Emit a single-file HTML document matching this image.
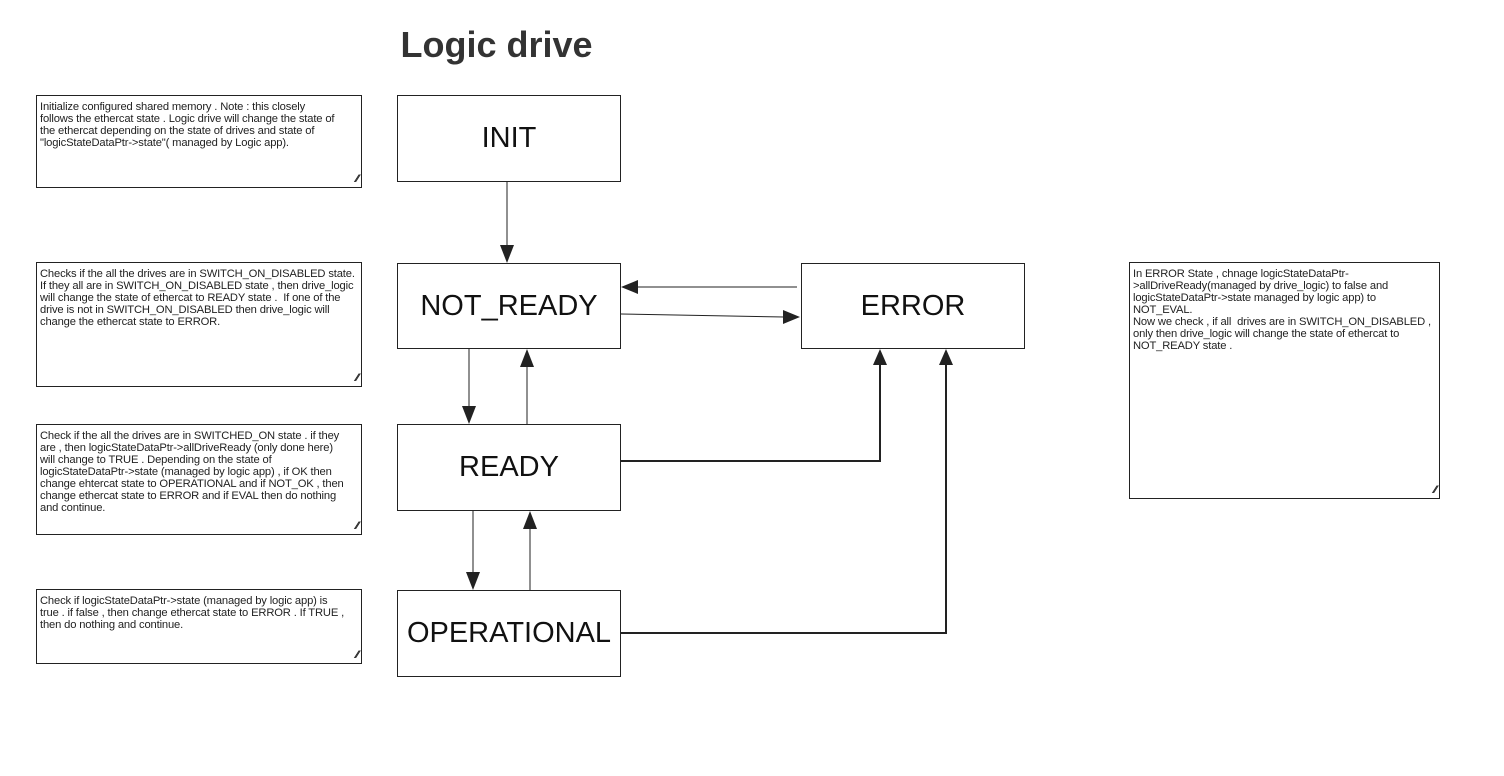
<!DOCTYPE html>
<html><head><meta charset="utf-8"><style>
body{margin:0;width:1504px;height:776px;background:#fff;position:relative;overflow:hidden;font-family:"Liberation Sans",sans-serif;}
.note{position:absolute;border:1px solid #222;box-sizing:border-box;padding:5px 3px;font-size:11.2px;line-height:12px;color:#222;white-space:nowrap;letter-spacing:-0.15px}
.note:after{content:"⁄⁄";position:absolute;right:4px;bottom:2px;font-size:11px;font-weight:bold;letter-spacing:-3px}
.st{position:absolute;border:1px solid #222;box-sizing:border-box;display:flex;align-items:center;justify-content:center;font-size:29px;color:#111}
h1{position:absolute;left:0;width:993px;top:24px;margin:0;text-align:center;font-size:36px;font-weight:bold;color:#333}
</style></head><body>
<h1>Logic drive</h1>
<div class="note" style="left:36px;top:95px;width:326px;height:93px">Initialize configured shared memory . Note : this closely<br>follows the ethercat state . Logic drive will change the state of<br>the ethercat depending on the state of drives and state of<br>"logicStateDataPtr-&gt;state"( managed by Logic app).</div>
<div class="note" style="left:36px;top:262px;width:326px;height:125px">Checks if the all the drives are in SWITCH_ON_DISABLED state.<br>If they all are in SWITCH_ON_DISABLED state , then drive_logic<br>will change the state of ethercat to READY state .&nbsp; If one of the<br>drive is not in SWITCH_ON_DISABLED then drive_logic will<br>change the ethercat state to ERROR.</div>
<div class="note" style="left:36px;top:424px;width:326px;height:111px">Check if the all the drives are in SWITCHED_ON state . if they<br>are , then logicStateDataPtr-&gt;allDriveReady (only done here)<br>will change to TRUE . Depending on the state of<br>logicStateDataPtr-&gt;state (managed by logic app) , if OK then<br>change ehtercat state to OPERATIONAL and if NOT_OK , then<br>change ethercat state to ERROR and if EVAL then do nothing<br>and continue.</div>
<div class="note" style="left:36px;top:589px;width:326px;height:75px">Check if logicStateDataPtr-&gt;state (managed by logic app) is<br>true . if false , then change ethercat state to ERROR . If TRUE ,<br>then do nothing and continue.</div>
<div class="note" style="left:1129px;top:262px;width:311px;height:237px">In ERROR State , chnage logicStateDataPtr-<br>&gt;allDriveReady(managed by drive_logic) to false and<br>logicStateDataPtr-&gt;state managed by logic app) to<br>NOT_EVAL.<br>Now we check , if all&nbsp; drives are in SWITCH_ON_DISABLED ,<br>only then drive_logic will change the state of ethercat to<br>NOT_READY state .</div>
<div class="st" style="left:397px;top:95px;width:224px;height:87px">INIT</div>
<div class="st" style="left:397px;top:263px;width:224px;height:86px">NOT_READY</div>
<div class="st" style="left:397px;top:424px;width:224px;height:87px">READY</div>
<div class="st" style="left:397px;top:590px;width:224px;height:87px">OPERATIONAL</div>
<div class="st" style="left:801px;top:263px;width:224px;height:86px">ERROR</div>
<svg width="1504" height="776" style="position:absolute;left:0;top:0" fill="#222">
<g stroke="#222" stroke-width="1" fill="none">
<line x1="507" y1="182" x2="507" y2="246"/>
<line x1="469" y1="349" x2="469" y2="407"/>
<line x1="527" y1="424" x2="527" y2="366"/>
<line x1="473" y1="511" x2="473" y2="573"/>
<line x1="530" y1="590" x2="530" y2="528"/>
<line x1="797" y1="287" x2="637" y2="287"/>
<line x1="621" y1="314" x2="784" y2="317"/>
<polyline stroke-width="2" points="621,461 880,461 880,364"/>
<polyline stroke-width="2" points="621,633 946,633 946,364"/>
</g>
<polygon points="500,245 514,245 507,263"/>
<polygon points="462,406 476,406 469,424"/>
<polygon points="520,367 534,367 527,349"/>
<polygon points="466,572 480,572 473,590"/>
<polygon points="523,529 537,529 530,511"/>
<polygon points="638,280 638,294 621,287"/>
<polygon points="783,310 783,324 800,317"/>
<polygon points="873,365 887,365 880,349"/>
<polygon points="939,365 953,365 946,349"/>
</svg>
</body></html>
